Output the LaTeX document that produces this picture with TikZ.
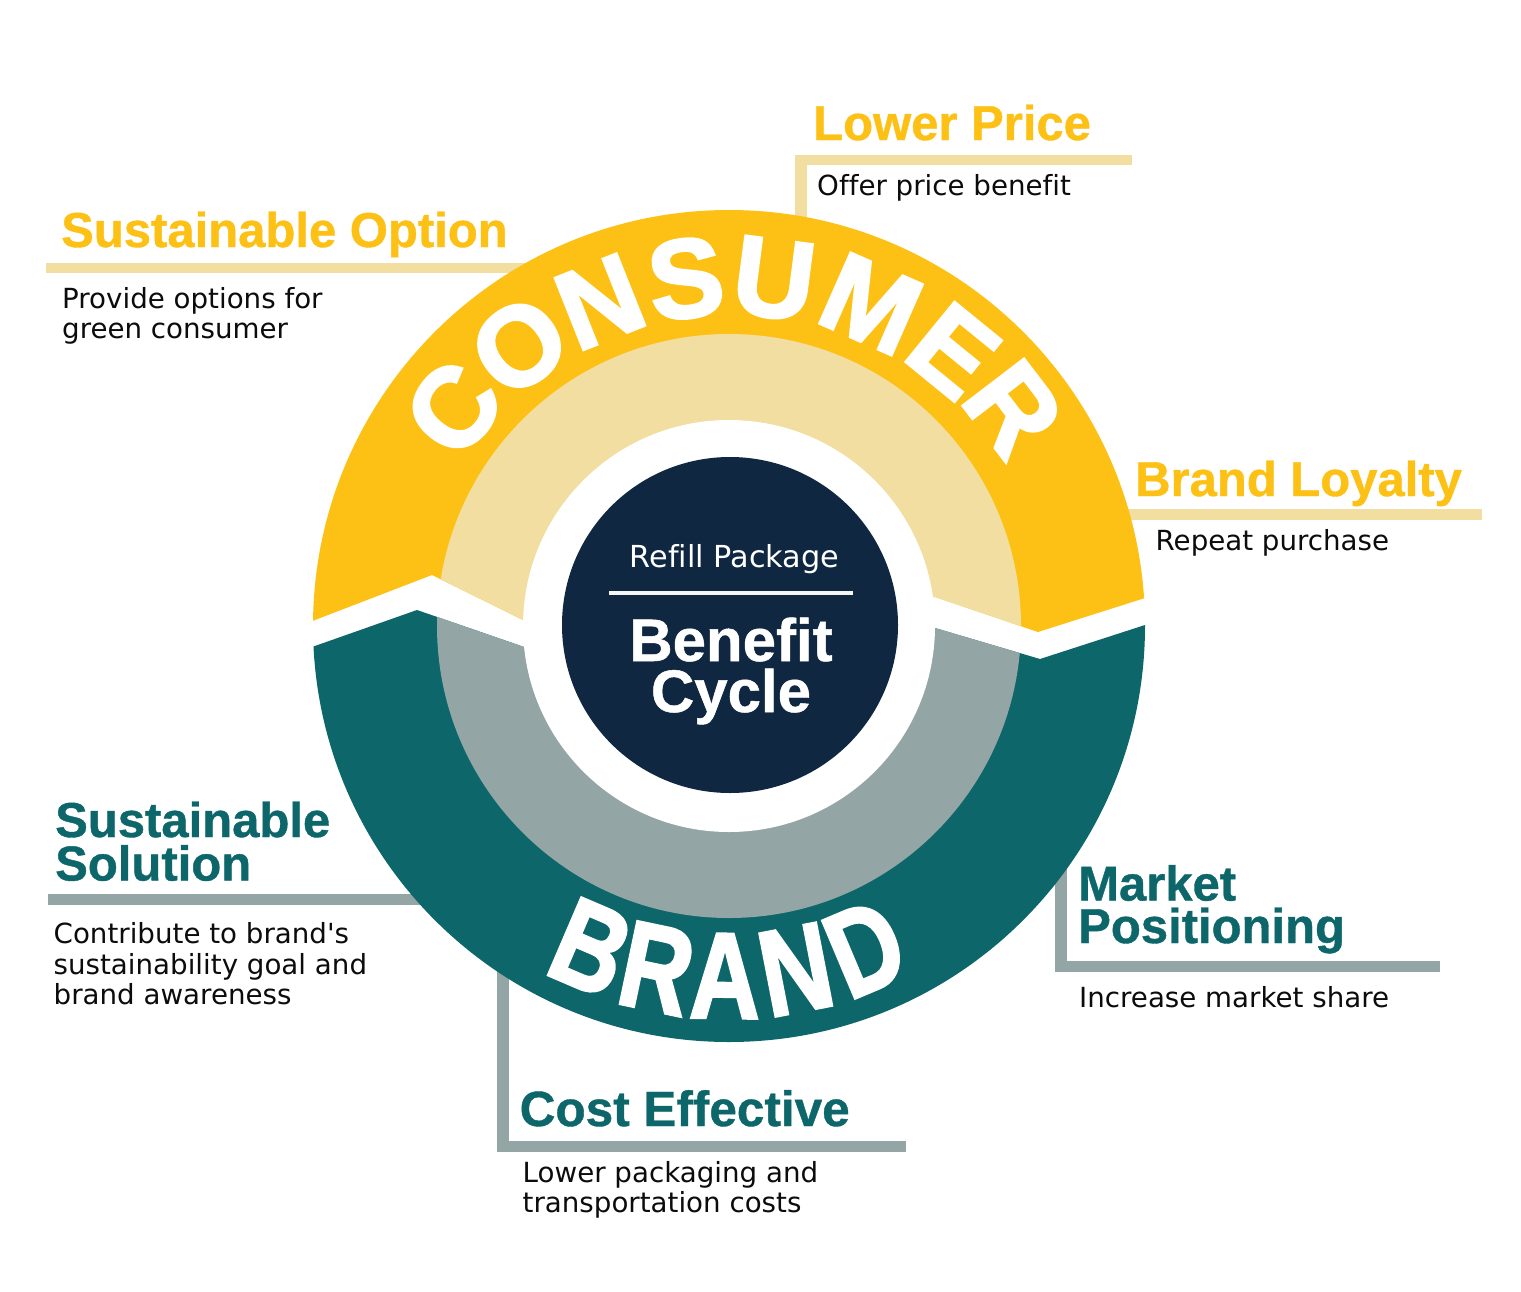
\documentclass[tikz,border=0pt]{standalone}
\usepackage{fontspec}
\setmainfont{DejaVu Sans}[Ligatures=CommonOff]
\newfontfamily\headfont{Liberation Sans Bold}[Ligatures=CommonOff,FakeBold=0.8]
\newfontfamily\ringfont{Liberation Sans Bold}[FakeBold=2.5]
\definecolor{cyel}{RGB}{253,193,22}
\definecolor{ccream}{RGB}{242,222,160}
\definecolor{cteal}{RGB}{13,103,106}
\definecolor{cgrey}{RGB}{148,165,166}
\definecolor{cnavy}{RGB}{15,39,64}
\definecolor{ctext}{RGB}{12,12,12}
\tikzset{
  headY/.style={anchor=base west, inner sep=0pt, text=cyel, font=\headfont\fontsize{49}{49}\selectfont},
  headT/.style={anchor=base west, inner sep=0pt, text=cteal, font=\headfont\fontsize{49}{49}\selectfont},
  bodytext/.style={anchor=base west, inner sep=0pt, text=ctext, font=\fontsize{27.7}{27.7}\selectfont},
  barY/.style={fill=ccream},
  barG/.style={fill=cgrey},
  ringC/.style={text=white, inner sep=0pt, font=\ringfont\fontsize{112}{112}\selectfont},
  ringB/.style={text=white, inner sep=0pt, font=\ringfont\fontsize{122}{122}\selectfont},
  centerbold/.style={anchor=base, inner sep=0pt, text=white, font=\headfont\fontsize{60}{60}\selectfont},
}
\begin{document}
\begin{tikzpicture}[x=1pt,y=-1pt]
\useasboundingbox (0,0) rectangle (1521,1291);
\fill[white] (0,0) rectangle (1521,1291);

% callout bars (behind the circle)
\fill[barY] (46,263) rectangle (530,273);
\fill[barY] (795,155) rectangle (1132,165);
\fill[barY] (795,155) rectangle (807,235);
\fill[barY] (1100,509) rectangle (1482,520);
\fill[barG] (48,894) rectangle (450,905);
\fill[barG] (1055,850) rectangle (1067,972);
\fill[barG] (1055,961) rectangle (1440,972);
\fill[barG] (497,965) rectangle (509,1152);
\fill[barG] (497,1141) rectangle (906,1152);

% rings
\coordinate (c) at (729,626);
\begin{scope}
  \clip (c) circle[radius=416pt];
  \fill[cyel] (280,633.5) -- (315,620) -- (432,575) -- (523,620) -- (935,597) -- (1038,632) -- (1145,598) -- (1180,587) -- (1180,150) -- (280,150) -- cycle;
  \fill[cteal] (280,658) -- (312,647) -- (417,610) -- (527,648) -- (935,628) -- (1040,659) -- (1145,625) -- (1180,614) -- (1180,1100) -- (280,1100) -- cycle;
\end{scope}
\begin{scope}
  \clip (c) circle[radius=292pt];
  \fill[ccream] (280,633.5) -- (315,620) -- (432,575) -- (523,620) -- (935,597) -- (1038,632) -- (1145,598) -- (1180,587) -- (1180,150) -- (280,150) -- cycle;
  \fill[cgrey] (280,658) -- (312,647) -- (417,610) -- (527,648) -- (935,628) -- (1040,659) -- (1145,625) -- (1180,614) -- (1180,1100) -- (280,1100) -- cycle;
\end{scope}
\fill[white] (c) circle[radius=206pt];
\fill[cnavy] (730,625) circle[radius=168pt];

% ring words
\foreach \ch/\a/\r in {C/141.7/351, O/126.8/350, N/111.7/349, S/97.1/350, U/82.6/350, M/66.2/352, E/50.8/355, R/37.4/358}
  \node[ringC, rotate=\a-90] (cons\ch) at ({729+\r*cos(\a)},{626-\r*sin(\a)}) {\ch};
\foreach \ch/\a in {B/246.8, R/258.1, A/269.3, N/281.0, D/292.9}
  \node[ringB, rotate=\a+90] (brand\ch) at ({729+350*cos(\a)},{626-350*sin(\a)}) {\scalebox{0.8}[1]{\ch}};

% centre
\node[anchor=base, inner sep=0pt, text=white, font=\fontsize{30.3}{30.3}\selectfont] (refill) at (734.5,567) {Refill Package};
\coordinate (ruleL) at (609,593);
\coordinate (ruleR) at (853,593);
\draw[white!92!gray, line width=3.5pt] (ruleL) -- (ruleR);
\node[centerbold] (benefit) at (731,661) {Benefit};
\node[centerbold] (cycle) at (731,712) {Cycle};

% labels
\node[headY] (t1) at (61,247) {Sustainable Option};
\node[bodytext] (d1a) at (62,308) {Provide options for};
\node[bodytext] (d1b) at (62,338) {green consumer};

\node[headY] (t2) at (813,140) {Lower Price};
\node[bodytext] (d2) at (817,195) {Offer price benefit};

\node[headY] (t3) at (1135,496) {Brand Loyalty};
\node[bodytext] (d3) at (1155.5,550) {Repeat purchase};

\node[headT] (t4a) at (55,837) {Sustainable};
\node[headT] (t4b) at (55,880.5) {Solution};
\node[bodytext] (d4a) at (53.5,943) {Contribute to brand\textquotesingle s};
\node[bodytext] (d4b) at (53.5,974) {sustainability goal and};
\node[bodytext] (d4c) at (53.5,1004.5) {brand awareness};

\node[headT] (t5a) at (1078,900.5) {Market};
\node[headT] (t5b) at (1078,943) {Positioning};
\node[bodytext] (d5) at (1079,1007) {Increase market share};

\node[headT, font=\headfont\fontsize{49.5}{49.5}\selectfont] (t6) at (519.5,1126) {Cost Effective};
\node[bodytext] (d6a) at (522.5,1182) {Lower packaging and};
\node[bodytext] (d6b) at (522.5,1212) {transportation costs};
\end{tikzpicture}
\end{document}
